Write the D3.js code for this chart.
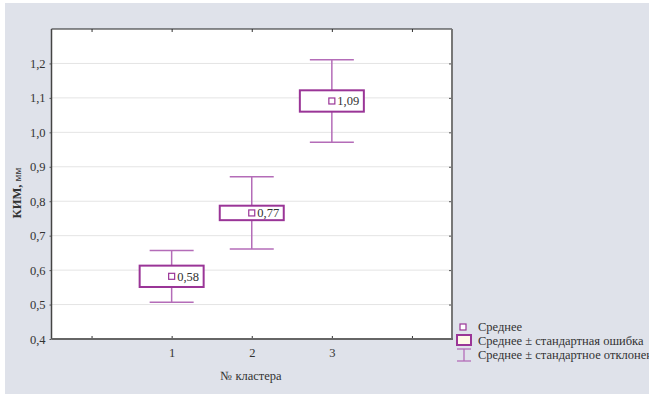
<!DOCTYPE html>
<html><head><meta charset="utf-8">
<script src="https://cdn.jsdelivr.net/npm/d3@7"></script>
</head>
<body style="margin:0">
<svg id="chart" width="649" height="397" font-family="Liberation Serif" font-size="12.5"></svg>
<script>
const clusters = ["1", "2", "3"];
const clusterPos = [1, 2, 3];
const means = [0.582, 0.766, 1.091];
const stdErrors = [0.031, 0.021, 0.031];
const stdDevs = [0.075, 0.105, 0.12];
const meanLabels = ["0,58", "0,77", "1,09"];
const yTicks = [0.4, 0.5, 0.6, 0.7, 0.8, 0.9, 1.0, 1.1, 1.2];
const yTickLabels = ["0,4", "0,5", "0,6", "0,7", "0,8", "0,9", "1,0", "1,1", "1,2"];
const xTickPositions = [0, 1, 2, 3, 4];
const legendLabels = ["Среднее", "Среднее ± стандартная ошибка", "Среднее ± стандартное отклонение"];

const svg = d3.select("#chart");
const W = 649, H = 397;
const L = 51.5, R = 452, T = 29, B = 339;
const boxColor = "#9a3597", whiskColor = "#b46cb8", textColor = "#333";

svg.append("rect").attr("x", 5).attr("y", 3).attr("width", W - 5).attr("height", H - 6).attr("fill", "#dfe2ea");
svg.append("rect").attr("x", L).attr("y", T).attr("width", R - L).attr("height", B - T).attr("fill", "#fff");

const x = d3.scaleLinear().domain([-0.5, 4.5]).range([L, R]);
const y = d3.scaleLinear().domain([0.4, 1.3]).range([B, T]);

svg.append("g").selectAll("line").data(yTicks.slice(1)).join("line")
  .attr("x1", L).attr("x2", R).attr("y1", d => y(d)).attr("y2", d => y(d))
  .attr("stroke", "#c8c8c8").attr("stroke-width", 1).attr("stroke-dasharray", "1,1");

function cleanAxis(g) {
  g.attr("font-family", null).attr("font-size", null);
  g.select(".domain").remove();
}

const gy = svg.append("g").attr("transform", `translate(${L},0)`)
  .call(d3.axisLeft(y).tickValues(yTicks).tickFormat((d, i) => yTickLabels[i]).tickSize(2).tickPadding(4))
  .call(cleanAxis);
gy.selectAll("line").attr("stroke", "#555");
gy.selectAll("text").attr("fill", textColor);

svg.append("g").attr("transform", `translate(${R},0)`)
  .call(d3.axisLeft(y).tickValues(yTicks).tickSize(3).tickFormat(""))
  .call(cleanAxis).selectAll("line").attr("stroke", "#555");

const gx = svg.append("g").attr("transform", `translate(0,${B})`)
  .call(d3.axisBottom(x).tickValues(xTickPositions)
    .tickFormat(d => clusterPos.includes(d) ? clusters[clusterPos.indexOf(d)] : "").tickSize(-3).tickPadding(9))
  .call(cleanAxis);
gx.selectAll("line").attr("stroke", "#333");
gx.selectAll("text").attr("fill", textColor);

svg.append("g").attr("transform", `translate(0,${T})`)
  .call(d3.axisTop(x).tickValues(xTickPositions).tickSize(-3).tickFormat(""))
  .call(cleanAxis).selectAll("line").attr("stroke", "#333");

svg.append("line").attr("x1", L).attr("x2", R).attr("y1", T).attr("y2", T).attr("stroke", "#222").attr("stroke-width", 1.2);
svg.append("line").attr("x1", R).attr("x2", R).attr("y1", T).attr("y2", B).attr("stroke", "#777").attr("stroke-width", 2);
svg.append("line").attr("x1", L).attr("x2", L).attr("y1", T).attr("y2", B).attr("stroke", "#444").attr("stroke-width", 1.5);
svg.append("line").attr("x1", L).attr("x2", R + 1).attr("y1", B).attr("y2", B).attr("stroke", "#666").attr("stroke-width", 2);

const boxW = 64, capW = 44;
const g = svg.append("g");
clusters.forEach((c, i) => {
  const cx = x(clusterPos[i]);
  const m = means[i], se = stdErrors[i], sd = stdDevs[i];
  g.append("line").attr("x1", cx).attr("x2", cx).attr("y1", y(m + sd)).attr("y2", y(m + se)).attr("stroke", whiskColor).attr("stroke-width", 1.5);
  g.append("line").attr("x1", cx).attr("x2", cx).attr("y1", y(m - se)).attr("y2", y(m - sd)).attr("stroke", whiskColor).attr("stroke-width", 1.5);
  [m + sd, m - sd].forEach(v => g.append("line").attr("x1", cx - capW / 2).attr("x2", cx + capW / 2).attr("y1", y(v)).attr("y2", y(v)).attr("stroke", whiskColor).attr("stroke-width", 1.5));
  g.append("rect").attr("x", cx - boxW / 2).attr("y", y(m + se)).attr("width", boxW).attr("height", y(m - se) - y(m + se))
    .attr("fill", "#fff").attr("stroke", boxColor).attr("stroke-width", 2);
  g.append("rect").attr("x", cx - 3).attr("y", y(m) - 3).attr("width", 6).attr("height", 6).attr("fill", "#fff").attr("stroke", boxColor).attr("stroke-width", 1.2);
  g.append("text").attr("x", cx + 5.5).attr("y", y(m) + 4.5).attr("fill", textColor).text(meanLabels[i]);
});

svg.append("text").attr("transform", `translate(21,${(T + B) / 2 + 9}) rotate(-90)`).attr("text-anchor", "middle")
  .attr("fill", textColor)
  .call(t => { t.append("tspan").attr("font-weight", "bold").text("КИМ, "); t.append("tspan").attr("font-size", 11).text("мм"); });
svg.append("text").attr("x", 251).attr("y", 380).attr("text-anchor", "middle").attr("fill", textColor).text("№ кластера");

const lg = svg.append("g");
lg.append("rect").attr("x", 460).attr("y", 324).attr("width", 6).attr("height", 6).attr("fill", "#fff").attr("stroke", boxColor).attr("stroke-width", 1.2);
lg.append("rect").attr("x", 457).attr("y", 335).attr("width", 14).attr("height", 10).attr("fill", "#fff9e8").attr("stroke", boxColor).attr("stroke-width", 2);
lg.append("line").attr("x1", 457).attr("x2", 471).attr("y1", 349).attr("y2", 349).attr("stroke", whiskColor).attr("stroke-width", 1.3);
lg.append("line").attr("x1", 464).attr("x2", 464).attr("y1", 349).attr("y2", 361).attr("stroke", whiskColor).attr("stroke-width", 1.3);
lg.append("line").attr("x1", 457).attr("x2", 471).attr("y1", 361).attr("y2", 361).attr("stroke", whiskColor).attr("stroke-width", 1.3);
lg.selectAll("text").data(legendLabels).join("text")
  .attr("x", 478).attr("y", (d, i) => 331 + i * 14).attr("fill", textColor).text(d => d);
</script>
</body></html>
